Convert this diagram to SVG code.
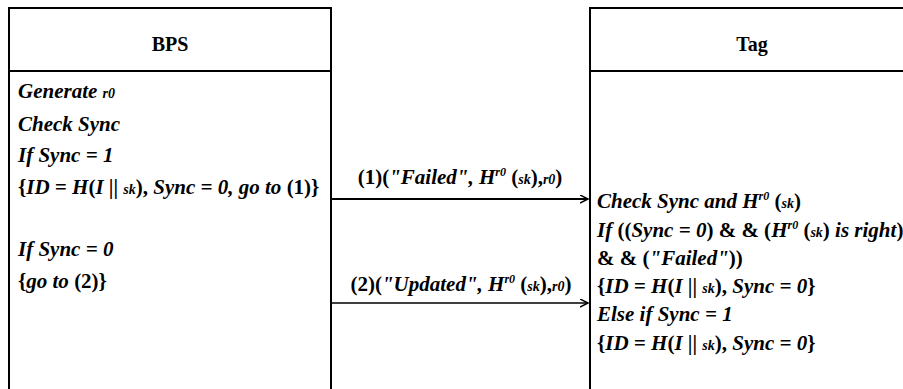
<svg xmlns="http://www.w3.org/2000/svg" width="903" height="389" viewBox="0 0 903 389" font-family="Liberation Serif, Times New Roman, serif">
<style>
.box{fill:none;stroke:#000;stroke-width:2}
.hd{font-weight:bold;font-size:20px;text-anchor:middle}
.t{font-weight:bold;font-style:italic;font-size:21px}
.u{font-style:normal}
.s{font-size:14px}
.sup{font-size:12px}
.c{stroke:#000;fill:none}
</style>
<defs>
<marker id="ah" markerWidth="10" markerHeight="10" refX="8" refY="4" orient="auto" markerUnits="userSpaceOnUse">
<path d="M0,0 L8,4 L0,8" fill="none" stroke="#000" stroke-width="1.5"/>
</marker>
</defs>
<rect width="903" height="389" fill="#fff"/>
<g id="bps">
<path class="box" d="M9,400 V8 H331 V400 M9,71 H331"/>
<text class="hd" x="170" y="51">BPS</text>
<text class="t" x="18" y="98">Generate <tspan class="s">r0</tspan></text>
<text class="t" x="18" y="131">Check Sync</text>
<text class="t" x="18" y="162">If  Sync = 1</text>
<text class="t" x="18" y="194"><tspan class="u">{</tspan>ID = H<tspan class="u">(</tspan>I <tspan class="u">||</tspan> <tspan class="s">sk</tspan><tspan class="u">),</tspan> Sync = 0, go to <tspan class="u">(1)}</tspan></text>
<text class="t" x="18" y="256">If  Sync = 0</text>
<text class="t" x="18" y="288"><tspan class="u">{</tspan>go to <tspan class="u">(2)}</tspan></text>
</g>
<g id="tag">
<path class="box" d="M590,400 V8 H910 M590,71 H910"/>
<text class="hd" x="752" y="51">Tag</text>
<text class="t" x="597" y="208">Check Sync and H<tspan class="sup" dy="-8">r0</tspan><tspan dy="8" class="u"> (</tspan><tspan class="s">sk</tspan><tspan class="u">)</tspan></text>
<text class="t" x="597" y="237">If  <tspan class="u">((</tspan>Sync = 0<tspan class="u">) &amp; &amp; (</tspan>H<tspan class="sup" dy="-8">r0</tspan><tspan dy="8" class="u"> (</tspan><tspan class="s">sk</tspan><tspan class="u">)</tspan> is right<tspan class="u">)</tspan></text>
<text class="t" x="597" y="265"><tspan class="u">&amp; &amp; (</tspan>"Failed"<tspan class="u">))</tspan></text>
<text class="t" x="597" y="293"><tspan class="u">{</tspan>ID = H<tspan class="u">(</tspan>I <tspan class="u">||</tspan> <tspan class="s">sk</tspan><tspan class="u">),</tspan> Sync = 0<tspan class="u">}</tspan></text>
<text class="t" x="597" y="321">Else if  Sync = 1</text>
<text class="t" x="597" y="350"><tspan class="u">{</tspan>ID = H<tspan class="u">(</tspan>I <tspan class="u">||</tspan> <tspan class="s">sk</tspan><tspan class="u">),</tspan> Sync = 0<tspan class="u">}</tspan></text>
</g>
<g id="connectors">
<line class="c" x1="331" y1="199" x2="588" y2="199" stroke-width="2" marker-end="url(#ah)"/>
<line class="c" x1="331" y1="303" x2="588" y2="303" stroke-width="1.5" marker-end="url(#ah)"/>
<text class="t" x="460" y="184" text-anchor="middle"><tspan class="u">(1)(</tspan>"Failed", H<tspan class="sup" dy="-8">r0</tspan><tspan dy="8" class="u"> (</tspan><tspan class="s">sk</tspan><tspan class="u">),</tspan><tspan class="s">r0</tspan><tspan class="u">)</tspan></text>
<text class="t" x="461" y="291" text-anchor="middle"><tspan class="u">(2)(</tspan>"Updated", H<tspan class="sup" dy="-8">r0</tspan><tspan dy="8" class="u"> (</tspan><tspan class="s">sk</tspan><tspan class="u">),</tspan><tspan class="s">r0</tspan><tspan class="u">)</tspan></text>
</g>
</svg>
